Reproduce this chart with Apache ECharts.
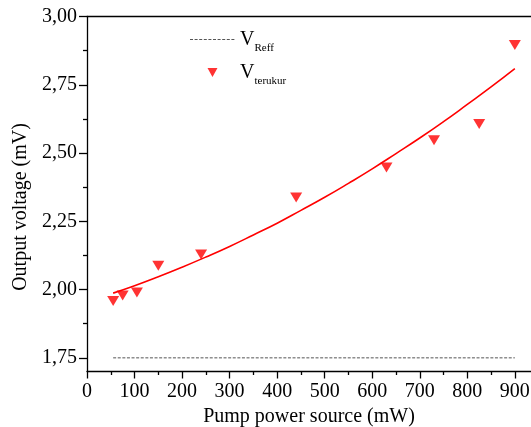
<!DOCTYPE html>
<html>
<head>
<meta charset="utf-8">
<script src="https://cdn.jsdelivr.net/npm/echarts@6/dist/echarts.min.js"></script>
<style>html,body{margin:0;padding:0;background:#fff}#c{width:531px;height:427px}</style>
</head>
<body>
<div id="c"></div>
<script>
// Measured points (V_terukur)
const pumpPower = [55, 75, 105, 150, 240, 440, 630, 730, 825, 900];
const measuredVoltage = [1.958, 1.978, 1.989, 2.087, 2.128, 2.337, 2.447, 2.547, 2.606, 2.896];
// Fit curve
const fitPower = [55, 100, 150, 200, 250, 300, 350, 400, 450, 500, 550, 600, 650, 700, 750, 800, 850, 900];
const fitVoltage = [1.987, 2.014, 2.047, 2.082, 2.119, 2.158, 2.200, 2.243, 2.290, 2.338, 2.389, 2.442, 2.498, 2.555, 2.615, 2.678, 2.742, 2.809];
// Reference voltage (V_Reff)
const refPower = [55, 900];
const refVoltage = [1.75, 1.75];
// Ticks
const xLabels = [0, 100, 200, 300, 400, 500, 600, 700, 800, 900];
const xMinor = [50, 150, 250, 350, 450, 550, 650, 750, 850];
const yLabels = [1.75, 2.00, 2.25, 2.50, 2.75, 3.00];
const yMinor = [1.875, 2.125, 2.375, 2.625, 2.875];

const FONT = 'Liberation Serif';
const chart = echarts.init(document.getElementById('c'));

const zip = (a, b) => a.map((v, i) => [v, b[i]]);

// legend icons: bounding box forced to 45x10 with invisible degenerate points
let dashPath = 'path://M0,0 L0.01,0 M45,10 L45.01,10';
for (let x = 0; x < 44; x += 4.6) {
  dashPath += ` M${x.toFixed(1)},4.5 L${(x + 3).toFixed(1)},4.5 L${(x + 3).toFixed(1)},5.5 L${x.toFixed(1)},5.5 Z`;
}
const triPath = 'path://M0,0 L0.01,0 M45,10 L45.01,10 M17.5,0.5 L27.5,0.5 L22.5,9.5 Z';

chart.setOption({
  animation: false,
  backgroundColor: '#fff',
  grid: { left: 87, top: 16.5, right: 0, bottom: 55.5, containLabel: false, outerBoundsMode: 'none' },
  xAxis: [
    {
      type: 'value', min: 0, max: 934, position: 'bottom',
      name: 'Pump power source (mW)', nameLocation: 'middle', nameGap: 35,
      nameTextStyle: { fontFamily: FONT, fontSize: 20, color: '#000' },
      axisLine: { show: true, lineStyle: { color: '#000', width: 1.3 } },
      axisTick: { show: true, length: 7, inside: false, customValues: xLabels, lineStyle: { color: '#000', width: 1.3 } },
      axisLabel: { customValues: xLabels, fontFamily: FONT, fontSize: 20, color: '#000', margin: 10, formatter: v => String(v) },
      splitLine: { show: false }
    },
    {
      type: 'value', min: 0, max: 934, position: 'bottom',
      axisLine: { show: false },
      axisTick: { show: true, length: 3.5, customValues: xMinor, lineStyle: { color: '#000', width: 1.3 } },
      axisLabel: { show: false },
      splitLine: { show: false }
    },
    {
      type: 'value', min: 0, max: 934, position: 'top',
      axisLine: { show: true, lineStyle: { color: '#000', width: 1.3 } },
      axisTick: { show: false },
      axisLabel: { show: false },
      splitLine: { show: false }
    }
  ],
  yAxis: [
    {
      type: 'value', min: 1.70, max: 3.00, position: 'left',
      name: 'Output voltage (mV)', nameLocation: 'middle', nameGap: 56,
      nameTextStyle: { fontFamily: FONT, fontSize: 20, color: '#000', padding: [0, 26, 0, 0] },
      axisLine: { show: true, lineStyle: { color: '#000', width: 1.3 } },
      axisTick: { show: true, length: 8, customValues: yLabels, lineStyle: { color: '#000', width: 1.3 } },
      axisLabel: { customValues: yLabels, fontFamily: FONT, fontSize: 20, color: '#000', margin: 10,
        formatter: v => v.toFixed(2).replace('.', ',') },
      splitLine: { show: false }
    },
    {
      type: 'value', min: 1.70, max: 3.00, position: 'left',
      axisLine: { show: false },
      axisTick: { show: true, length: 4, customValues: yMinor, lineStyle: { color: '#000', width: 1.3 } },
      axisLabel: { show: false },
      splitLine: { show: false }
    }
  ],
  legend: {
    orient: 'vertical', left: 190, top: 29.5, padding: 0, itemWidth: 45, itemHeight: 10, itemGap: 9,
    data: [
      { name: 'VReff', icon: dashPath, itemStyle: { color: '#555' } },
      { name: 'Vterukur', icon: triPath, itemStyle: { color: '#ff0000' } }
    ],
    formatter: name => name === 'VReff' ? '{v|V}{s|Reff}' : '{v|V}{s|terukur}',
    textStyle: {
      fontFamily: FONT, color: '#000',
      rich: {
        v: { fontFamily: FONT, fontSize: 20, lineHeight: 20, color: '#000', verticalAlign: 'top' },
        s: { fontFamily: FONT, fontSize: 11, lineHeight: 11, color: '#000', verticalAlign: 'top', padding: [13, 0, 0, 0] }
      }
    }
  },
  series: [
    {
      name: 'VReff', type: 'line', data: zip(refPower, refVoltage), symbol: 'none',
      lineStyle: { color: '#555', width: 1, type: [3, 1.6] }, itemStyle: { color: '#555' }, z: 2
    },
    {
      name: 'fit', type: 'line', data: zip(fitPower, fitVoltage), symbol: 'none', smooth: true,
      lineStyle: { color: '#ff0000', width: 1.6 }, z: 3
    },
    {
      name: 'Vterukur', type: 'scatter', data: zip(pumpPower, measuredVoltage),
      symbol: 'triangle', symbolRotate: 180, symbolSize: [12, 10],
      itemStyle: { color: '#ff0000' }, z: 4
    }
  ]
});
</script>
</body>
</html>
